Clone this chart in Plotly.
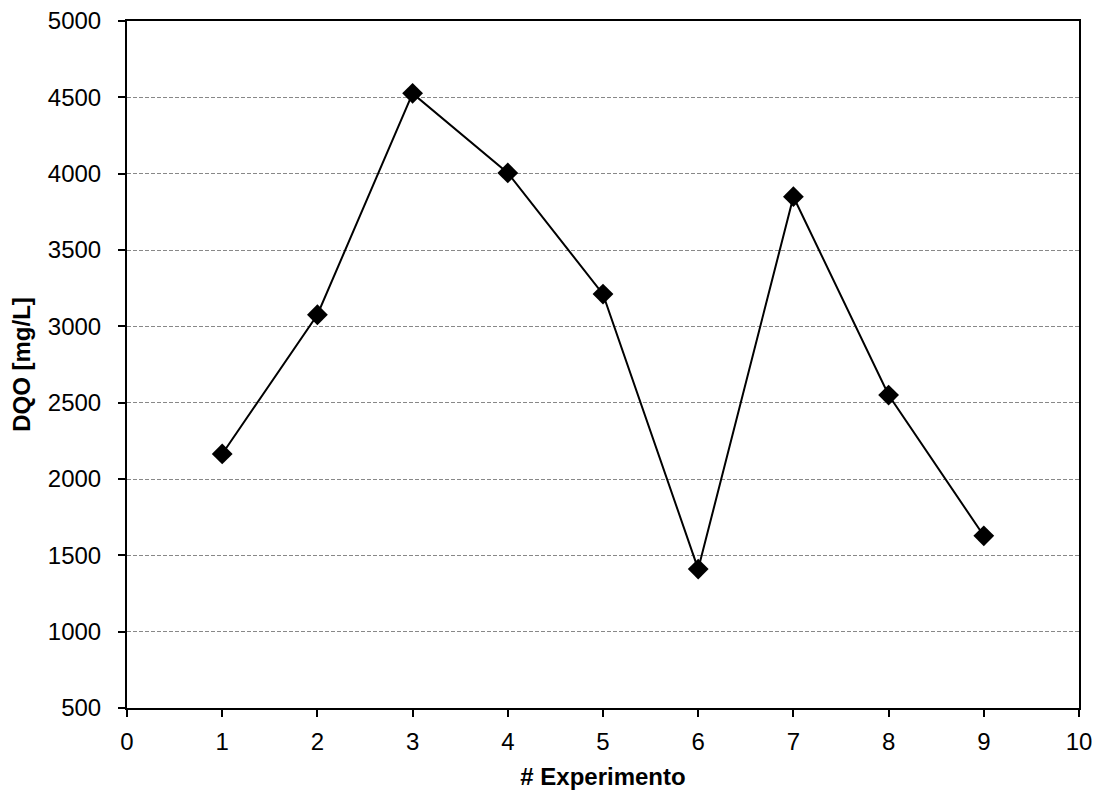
import plotly.graph_objects as go

experimento = [1, 2, 3, 4, 5, 6, 7, 8, 9]
dqo = [2164, 3076, 4526, 4005, 3211, 1410, 3849, 2550, 1628]

FONT = "Liberation Sans, Arial"

fig = go.Figure()
fig.add_trace(go.Scatter(
    x=experimento, y=dqo, mode="lines+markers",
    line=dict(color="black", width=2),
    marker=dict(symbol="diamond", size=16, color="black"),
    showlegend=False,
))

axis_common = dict(
    showline=True, linecolor="black", linewidth=2, mirror=True,
    ticks="outside", ticklen=7, tickwidth=2, tickcolor="black",
    tickfont=dict(family=FONT, size=24, color="black"),
    zeroline=False, automargin=False, ticklabeloverflow="allow",
)
fig.update_xaxes(range=[0, 10], dtick=1, showgrid=False, ticklabelstandoff=4,
                 title=dict(text="<b># Experimento</b>", font=dict(family=FONT, size=24, color="black"), standoff=14),
                 **axis_common)
fig.update_yaxes(range=[500, 5000], dtick=500, showgrid=True, gridcolor="#888888",
                 griddash="4px,2px", gridwidth=1, ticklabelstandoff=12,
                 title=dict(text="<b>DQO [mg/L]</b>", font=dict(family=FONT, size=24, color="black"), standoff=10),
                 **axis_common)
fig.update_layout(
    template="none",
    width=1092, height=788,
    margin=dict(l=119, r=21, t=13, b=88),
    plot_bgcolor="white", paper_bgcolor="white",
)
fig.write_html("out.html")
